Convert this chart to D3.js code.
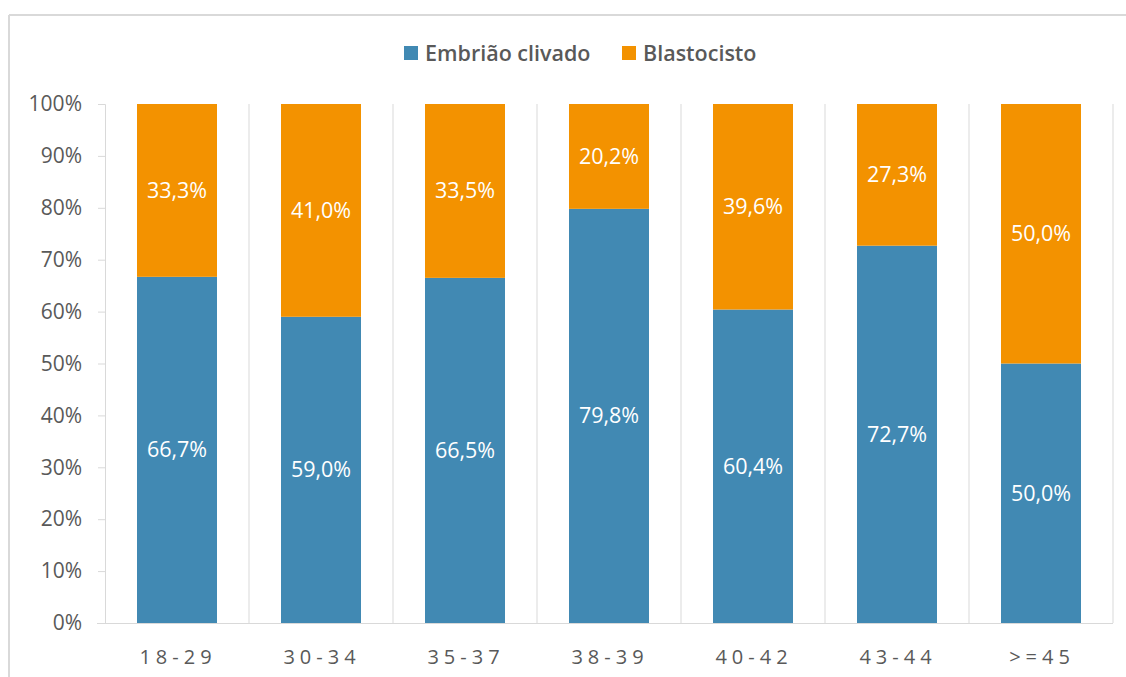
<!DOCTYPE html>
<html>
<head>
<meta charset="utf-8">
<script src="https://cdn.jsdelivr.net/npm/d3@7"></script>
<style>
  body { margin: 0; background: #fff; }
  svg text { font-family: "Open Sans", "Noto Sans", sans-serif; }
</style>
</head>
<body>
<svg id="chart" width="1126" height="677"></svg>
<script>
// data
var categories = ["18-29", "30-34", "35-37", "38-39", "40-42", "43-44", ">=45"];
var clivado = [66.7, 59.0, 66.5, 79.8, 60.4, 72.7, 50.0];
var blasto = [33.3, 41.0, 33.5, 20.2, 39.6, 27.3, 50.0];
var seriesNames = ["Embrião clivado", "Blastocisto"];
var yTicks = [0, 10, 20, 30, 40, 50, 60, 70, 80, 90, 100];

var colors = ["#4189b3", "#f39200"];
var textGray = "#595959";

var svg = d3.select("#chart");

// outer frame (top and left edges visible)
svg.append("line").attr("x1", 9).attr("x2", 1126).attr("y1", 15).attr("y2", 15)
    .attr("stroke", "#d9d9d9").attr("stroke-width", 2);
svg.append("line").attr("x1", 9).attr("x2", 9).attr("y1", 15).attr("y2", 677)
    .attr("stroke", "#d9d9d9").attr("stroke-width", 2);

var margin = {left: 105, right: 13, top: 104, bottom: 54};
var width = 1126 - margin.left - margin.right,
    height = 677 - margin.top - margin.bottom;

var g = svg.append("g").attr("transform", "translate(" + margin.left + "," + margin.top + ")");

var x = d3.scaleBand().domain(categories).range([0, width]).paddingInner(0).paddingOuter(0);
var y = d3.scaleLinear().domain([0, 100]).range([height, 0]);

var barW = 80;

// category separators
g.selectAll(".sep").data(categories).enter().append("line")
    .attr("class", "sep")
    .attr("x1", function(d) { return x(d) + x.bandwidth(); })
    .attr("x2", function(d) { return x(d) + x.bandwidth(); })
    .attr("y1", 0).attr("y2", height)
    .attr("stroke", "#d9d9d9").attr("stroke-width", 1);

// y axis
var yAxis = d3.axisLeft(y).tickValues(yTicks).tickSize(7).tickPadding(16)
    .tickFormat(function(d) { return d + "%"; });
var ya = g.append("g").call(yAxis);
ya.select(".domain").attr("stroke", "#d9d9d9").attr("d", "M-7,0.5H0.5V" + height);
ya.selectAll(".tick line").attr("stroke", "#d9d9d9");
ya.selectAll(".tick text").attr("fill", textGray).style("font-size", "21px");

// x axis
g.append("line").attr("x1", -8).attr("x2", width).attr("y1", height + 0.5).attr("y2", height + 0.5)
    .attr("stroke", "#d9d9d9").attr("stroke-width", 1);
g.selectAll(".xlab").data(categories).enter().append("text")
    .attr("class", "xlab")
    .attr("x", function(d) { return x(d) + x.bandwidth() / 2 + 1; })
    .attr("y", height + 41)
    .attr("text-anchor", "middle")
    .attr("fill", textGray)
    .style("font-size", "20px")
    .style("letter-spacing", "5px")
    .text(function(d) { return d; });

// stacked bars
var rows = categories.map(function(c, i) { return {cat: c, a: clivado[i], b: blasto[i]}; });
var fmt = function(v) { return v.toFixed(1).replace(".", ",") + "%"; };

var bars = g.selectAll(".bar").data(rows).enter().append("g")
    .attr("transform", function(d) { return "translate(" + (x(d.cat) + (x.bandwidth() - barW) / 2) + ",0)"; });

bars.append("rect")
    .attr("y", function(d) { return y(d.a); })
    .attr("height", function(d) { return height - y(d.a); })
    .attr("width", barW).attr("fill", colors[0]);
bars.append("rect")
    .attr("y", function(d) { return y(d.a + d.b); })
    .attr("height", function(d) { return y(d.a) - y(d.a + d.b); })
    .attr("width", barW).attr("fill", colors[1]);

bars.append("text")
    .attr("x", barW / 2)
    .attr("y", function(d) { return y(d.a / 2); })
    .attr("dy", "0.35em").attr("text-anchor", "middle")
    .attr("fill", "#fff").style("font-size", "21.5px")
    .text(function(d) { return fmt(d.a); });
bars.append("text")
    .attr("x", barW / 2)
    .attr("y", function(d) { return y(d.a + d.b / 2); })
    .attr("dy", "0.35em").attr("text-anchor", "middle")
    .attr("fill", "#fff").style("font-size", "21.5px")
    .text(function(d) { return fmt(d.b); });

// legend
var legend = svg.append("g").attr("transform", "translate(0,53)");
var items = [{name: seriesNames[0], x: 404}, {name: seriesNames[1], x: 622}];
items.forEach(function(it, i) {
    legend.append("rect").attr("x", it.x).attr("y", -7).attr("width", 14).attr("height", 14)
        .attr("fill", colors[i]);
    legend.append("text").attr("x", it.x + 21).attr("y", 0).attr("dy", "0.35em")
        .attr("fill", textGray).style("font-size", "21.5px").style("font-weight", 600)
        .text(it.name);
});
</script>
</body>
</html>
